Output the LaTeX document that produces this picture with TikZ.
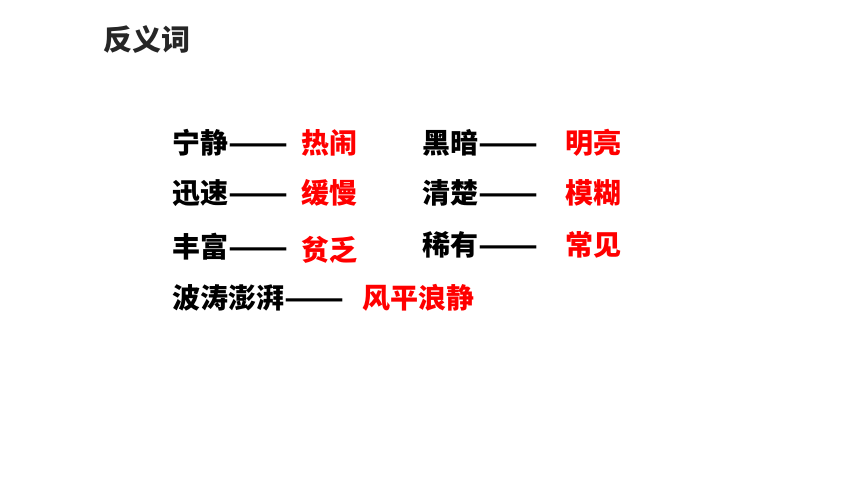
\documentclass[tikz,border=0pt]{standalone}
\usepackage{graphicx}
\usepackage{fontspec}
\newfontfamily\cjk{Noto Sans CJK SC}
\newcommand{\longdash}{\scalebox{1.25}[1]{——}}

\tikzset{
  word/.style={anchor=west, inner sep=0pt, font=\cjk\bfseries\fontsize{28}{28}\selectfont},
  answer/.style={word, text=red},
  heading/.style={anchor=west, inner sep=0pt, font=\cjk\bfseries\fontsize{29}{29}\selectfont, text=black!85}
}

\begin{document}
\begin{tikzpicture}[x=1pt,y=1pt]
\useasboundingbox (0,0) rectangle (860,484);
    \node[heading] (title) at (103,444) {反义词};

    \node[word] (w1) at (172,341) {宁静\longdash};
    \node[word] (w2) at (172,291) {迅速\longdash};
    \node[word] (w3) at (172,237) {丰富\longdash};
    \node[word] (w4) at (172,186) {波涛澎湃\longdash};

    \node[answer] (a1) at (301,341) {热闹};
    \node[answer] (a2) at (301,291) {缓慢};
    \node[answer] (a3) at (301,234) {贫乏};
    \node[answer] (a4) at (362,186) {风平浪静};

    \node[word] (w5) at (422,341) {黑暗\longdash};
    \node[word] (w6) at (422,291) {清楚\longdash};
    \node[word] (w7) at (422,239) {稀有\longdash};

    \node[answer] (a5) at (565,341) {明亮};
    \node[answer] (a6) at (565,291) {模糊};
    \node[answer] (a7) at (565,239) {常见};
\end{tikzpicture}
\end{document}
